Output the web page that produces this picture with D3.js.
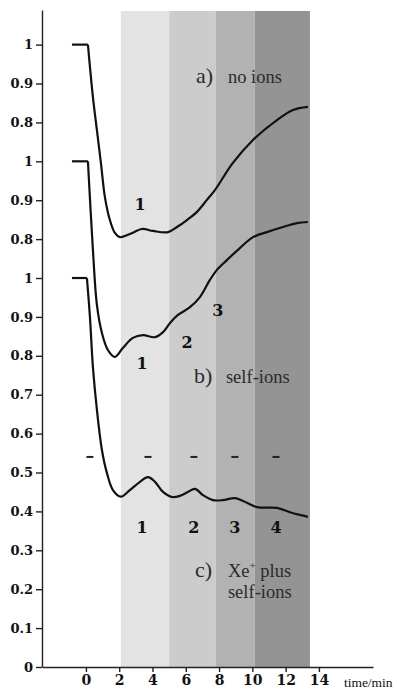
<!DOCTYPE html>
<html>
<head>
<meta charset="utf-8">
<script src="https://cdn.jsdelivr.net/npm/d3@7/dist/d3.min.js"></script>
<style>
  html, body { margin: 0; padding: 0; background: #fff; }
  svg { display: block; }
</style>
</head>
<body>
<script>
// ---- data ----
// time (min) for each series
const tA = [-0.84,0.12,0.42,0.66,0.90,1.14,1.44,1.74,2.04,2.64,3.37,4.03,4.93,5.47,6.07,6.67,7.27,7.75,8.83,10.04,11.48,12.44,13.34];
const valA = [1.00,1.00,0.865,0.780,0.696,0.608,0.549,0.516,0.505,0.513,0.526,0.521,0.518,0.531,0.549,0.570,0.601,0.626,0.696,0.755,0.806,0.832,0.840];
const tB = [-0.84,0.12,0.42,0.66,0.96,1.32,1.74,2.22,2.82,3.43,4.15,4.63,5.05,5.53,6.25,6.85,7.45,7.87,8.47,9.25,10.04,10.88,11.84,12.68,13.34];
const valB = [1.00,1.00,0.772,0.631,0.559,0.515,0.497,0.520,0.546,0.553,0.548,0.561,0.584,0.605,0.625,0.651,0.695,0.721,0.746,0.777,0.805,0.818,0.831,0.841,0.844];
const tC = [-0.84,0.06,0.24,0.42,0.66,0.96,1.26,1.62,2.10,2.64,3.25,3.73,4.15,4.63,5.17,5.65,6.13,6.55,7.03,7.63,8.23,8.95,9.44,10.28,11.48,12.26,12.86,13.34];
const valC = [1.00,1.00,0.900,0.771,0.661,0.558,0.499,0.455,0.438,0.455,0.476,0.488,0.476,0.450,0.437,0.440,0.450,0.458,0.442,0.429,0.429,0.434,0.427,0.411,0.409,0.398,0.391,0.386];
// vertical offsets of stacked curves (in axis units)
const offsets = [0.6, 0.3, 0.0];

// shaded irradiation periods
const bandStart = [2.1, 5.0, 7.8, 10.15];
const bandEnd   = [5.0, 7.8, 10.15, 13.46];
const bandColor = ["#e3e3e3", "#cccccc", "#b2b2b2", "#949494"];

// tick values / labels
const yTicks = [0,0.1,0.2,0.3,0.4,0.5,0.6,0.7,0.8,0.9,1.0,1.1,1.2,1.3,1.4,1.5,1.6];
const yTickLabels = ["0","0.1","0.2","0.3","0.4","0.5","0.6","0.7","0.8","0.9","1","0.8","0.9","1","0.8","0.9","1"];
const xTicks = [0,2,4,6,8,10,12,14];

// annotations: peak numbers [series index, time, local value, text]
const peakLabels = [
  [0, 3.25, 0.590, "1"],
  [1, 3.37, 0.481, "1"], [1, 6.07, 0.535, "2"], [1, 7.93, 0.618, "3"],
  [2, 3.37, 0.360, "1"], [2, 6.49, 0.360, "2"], [2, 8.95, 0.360, "3"], [2, 11.42, 0.360, "4"]
];
const dashTimes = [0.24, 3.73, 6.49, 8.95, 11.42];
const dashValue = 0.540;

// ---- layout ----
const W = 397, H = 693;
const x = d3.scaleLinear().domain([-2.64, 17.25]).range([42, 373]);
const y = d3.scaleLinear().domain([0, 1.689]).range([667, 10]);

const svg = d3.select("body").append("svg").attr("width", W).attr("height", H)
  .attr("viewBox", `0 0 ${W} ${H}`);

// bands
svg.append("g").selectAll("rect").data(bandStart).join("rect")
  .attr("x", (d) => x(d))
  .attr("width", (d, i) => x(bandEnd[i]) - x(d))
  .attr("y", y(1.689) + 1)
  .attr("height", y(0) - y(1.689) - 1)
  .attr("fill", (d, i) => bandColor[i]);

// axes
const yAxis = d3.axisLeft(y).tickValues(yTicks).tickSize(6).tickSizeOuter(0).tickPadding(3)
  .tickFormat((d, i) => yTickLabels[i]);
const gy = svg.append("g").attr("transform", `translate(${x(-2.64)},0)`).call(yAxis);
gy.selectAll("text").attr("font-family", "DejaVu Serif").attr("font-weight", "bold")
  .attr("font-size", 13).attr("fill", "#111");
gy.selectAll("line, path").attr("stroke", "#222").attr("stroke-width", 1.4);

const xAxis = d3.axisBottom(x).tickValues(xTicks).tickSize(5).tickSizeOuter(0).tickPadding(3);
const gx = svg.append("g").attr("transform", `translate(0,${y(0)})`).call(xAxis);
gx.selectAll("text").attr("font-family", "DejaVu Serif").attr("font-weight", "bold")
  .attr("font-size", 14).attr("fill", "#111");
gx.selectAll("line, path").attr("stroke", "#222").attr("stroke-width", 1.4);

svg.append("text").attr("x", x(15.5)).attr("y", y(0) + 20)
  .attr("font-family", "Liberation Serif").attr("font-size", 13.5).attr("fill", "#111")
  .text("time/min");

// curves
const series = [[tA, valA], [tB, valB], [tC, valC]];
const lineLin = d3.line().x((d) => x(d[0])).y((d) => y(d[1])).curve(d3.curveLinear);
const lineSmooth = d3.line().x((d) => x(d[0])).y((d) => y(d[1])).curve(d3.curveCatmullRom.alpha(0.5));
series.forEach(([ts, vs], si) => {
  const pts = ts.map((t, i) => [t, vs[i] + offsets[si]]);
  svg.append("path").attr("d", lineLin(pts.slice(0, 2)))
    .attr("fill", "none").attr("stroke", "#111").attr("stroke-width", 2.2);
  svg.append("path").attr("d", lineSmooth(pts.slice(1)))
    .attr("fill", "none").attr("stroke", "#111").attr("stroke-width", 2.2)
    .attr("stroke-linejoin", "round");
});

// dashes
svg.append("g").selectAll("line").data(dashTimes).join("line")
  .attr("x1", (d) => x(d) - 3.5).attr("x2", (d) => x(d) + 3.5)
  .attr("y1", y(dashValue)).attr("y2", y(dashValue))
  .attr("stroke", "#222").attr("stroke-width", 2);

// peak numbers
svg.append("g").selectAll("text").data(peakLabels).join("text")
  .attr("x", (d) => x(d[1])).attr("y", (d) => y(d[2] + offsets[d[0]]))
  .attr("dy", "0.36em").attr("text-anchor", "middle")
  .attr("font-family", "DejaVu Serif").attr("font-weight", "bold").attr("font-size", 16)
  .attr("fill", "#111").text((d) => d[3]);

// panel labels
const txtColor = "#2b2b2b";
function panelLabel(letter, t, v, words) {
  svg.append("text").attr("x", x(t)).attr("y", y(v))
    .attr("font-family", "Liberation Serif").attr("font-size", 22).attr("fill", txtColor)
    .text(letter);
  return svg.append("text").attr("x", x(t) + 32).attr("y", y(v))
    .attr("font-family", "Liberation Serif").attr("font-size", 18.5).attr("fill", txtColor)
    .text(words);
}
panelLabel("a)", 6.61, 1.501, "no ions");
panelLabel("b)", 6.49, 0.730, "self-ions");
svg.append("text").attr("x", x(6.55)).attr("y", y(0.231))
  .attr("font-family", "Liberation Serif").attr("font-size", 22).attr("fill", txtColor).text("c)");
const c2 = svg.append("text").attr("x", x(6.55) + 33).attr("y", y(0.231))
  .attr("font-family", "Liberation Serif").attr("font-size", 18.5).attr("fill", txtColor);
c2.append("tspan").text("Xe");
c2.append("tspan").attr("font-size", 11).attr("dy", -8).text("+");
c2.append("tspan").attr("dy", 8).text(" plus");
svg.append("text").attr("x", x(6.55) + 33).attr("y", y(0.177))
  .attr("font-family", "Liberation Serif").attr("font-size", 18.5).attr("fill", txtColor)
  .text("self-ions");
</script>
</body>
</html>
